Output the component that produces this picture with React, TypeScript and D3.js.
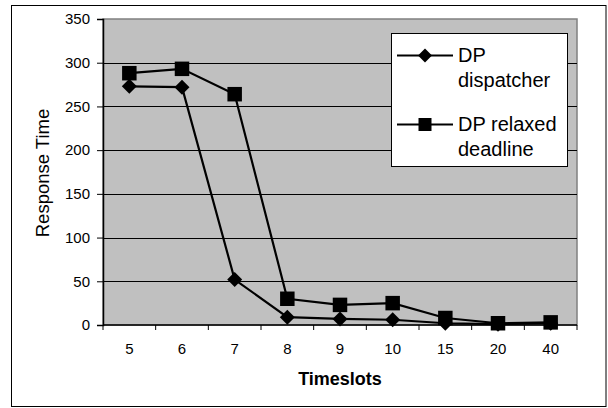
import React, { useEffect, useRef } from "react";
import * as d3 from "d3";

const timeslots = ["5", "6", "7", "8", "9", "10", "15", "20", "40"];
const dispatcher = [273, 272, 52, 9, 7, 6, 2, 1, 2];
const relaxed = [288, 293, 264, 30, 23, 25, 8, 2, 3];
const yTicks = [0, 50, 100, 150, 200, 250, 300, 350];
const seriesNames = [["DP", "dispatcher"], ["DP relaxed", "deadline"]];

const App: React.FC = () => {
  const svgRef = useRef<SVGSVGElement | null>(null);

  useEffect(() => {
    if (!svgRef.current) return;
    const width = 608;
    const height = 408;
    const margin = { top: 19, right: 31, bottom: 83, left: 103 };
    const plotW = width - margin.left - margin.right;
    const plotH = height - margin.top - margin.bottom;
    const font = "Arial, 'Liberation Sans', sans-serif";

    const svg = d3.select(svgRef.current);
    svg.selectAll("*").remove();

    // outer frame
    svg.append("rect")
      .attr("x", 11.5).attr("y", 5.5)
      .attr("width", 594.5).attr("height", 401)
      .attr("fill", "#fff").attr("stroke", "#000").attr("stroke-width", 1);

    const x = d3.scaleBand().domain(timeslots).range([0, plotW]);
    const y = d3.scaleLinear().domain([0, 350]).range([plotH, 0]);

    const g = svg.append("g").attr("transform", `translate(${margin.left},${margin.top})`);

    g.append("rect")
      .attr("width", plotW).attr("height", plotH)
      .attr("fill", "#c0c0c0").attr("stroke", "#808080").attr("stroke-width", 1.5);

    // gridlines
    g.selectAll("line.grid")
      .data(yTicks.filter(t => t > 0 && t < 350))
      .enter().append("line")
      .attr("x1", 0).attr("x2", plotW)
      .attr("y1", d => Math.round(y(d)) + 0.5).attr("y2", d => Math.round(y(d)) + 0.5)
      .attr("stroke", "#000").attr("stroke-width", 1);

    // y axis
    const yAxis = g.append("g")
      .call(d3.axisLeft(y).tickValues(yTicks).tickSize(6).tickPadding(7));
    yAxis.select(".domain").attr("stroke", "#000").attr("stroke-width", 1.5);
    yAxis.selectAll("text").attr("font-family", font).attr("font-size", 15).attr("fill", "#000");

    // x axis
    const xAxis = g.append("g").attr("transform", `translate(0,${plotH})`);
    xAxis.append("line")
      .attr("x1", 0).attr("x2", plotW).attr("y1", 0).attr("y2", 0)
      .attr("stroke", "#000").attr("stroke-width", 1.5);
    xAxis.selectAll("line.tick")
      .data(d3.range(timeslots.length + 1))
      .enter().append("line")
      .attr("x1", i => i * x.bandwidth()).attr("x2", i => i * x.bandwidth())
      .attr("y1", 0).attr("y2", 5)
      .attr("stroke", "#000").attr("stroke-width", 1);
    xAxis.selectAll("text")
      .data(timeslots)
      .enter().append("text")
      .attr("x", d => (x(d) ?? 0) + x.bandwidth() / 2)
      .attr("y", 29)
      .attr("text-anchor", "middle")
      .attr("font-family", font).attr("font-size", 15)
      .text(d => d);

    // axis titles
    svg.append("text")
      .attr("x", margin.left + plotW / 2).attr("y", 385)
      .attr("text-anchor", "middle")
      .attr("font-family", font).attr("font-size", 18).attr("font-weight", "bold")
      .text("Timeslots");
    svg.append("text")
      .attr("transform", `translate(49,${margin.top + plotH / 2 + 1}) rotate(-90)`)
      .attr("text-anchor", "middle")
      .attr("font-family", font).attr("font-size", 18.5)
      .text("Response Time");

    const line = d3.line<number>()
      .x((_, i) => (x(timeslots[i]) ?? 0) + x.bandwidth() / 2)
      .y(d => y(d));

    const square = (s: number) => `M${-s / 2},${-s / 2}h${s}v${s}h${-s}Z`;
    const diamondPath = (r: number) => `M0,${-r}L${r},0L0,${r}L${-r},0Z`;

    [dispatcher, relaxed].forEach((vals, si) => {
      g.append("path")
        .datum(vals)
        .attr("d", line)
        .attr("fill", "none").attr("stroke", "#000").attr("stroke-width", 2.2);
      g.selectAll(`path.m${si}`)
        .data(vals)
        .enter().append("path")
        .attr("class", `m${si}`)
        .attr("transform", (d, i) => `translate(${(x(timeslots[i]) ?? 0) + x.bandwidth() / 2},${y(d)})`)
        .attr("d", si === 0 ? diamondPath(7.5) : square(14.5))
        .attr("fill", "#000");
    });

    // legend
    const lg = svg.append("g");
    lg.append("rect")
      .attr("x", 391.5).attr("y", 33.5)
      .attr("width", 176).attr("height", 133)
      .attr("fill", "#fff").attr("stroke", "#000").attr("stroke-width", 1);
    const legendRows = [55.5, 124.5];
    seriesNames.forEach((lines, si) => {
      const ly = legendRows[si];
      lg.append("line")
        .attr("x1", 397).attr("x2", 453).attr("y1", ly).attr("y2", ly)
        .attr("stroke", "#000").attr("stroke-width", 2.2);
      lg.append("path")
        .attr("transform", `translate(425,${ly})`)
        .attr("d", si === 0 ? diamondPath(7) : square(13))
        .attr("fill", "#000");
      lines.forEach((t, li) => {
        lg.append("text")
          .attr("x", 458).attr("y", ly + 6 + li * 25)
          .attr("font-family", font).attr("font-size", 20)
          .text(t);
      });
    });
  }, []);

  return (
    <svg ref={svgRef} width={608} height={408}
      style={{ position: "absolute", left: 0, top: 0, background: "#fff" }} />
  );
};

export default App;
